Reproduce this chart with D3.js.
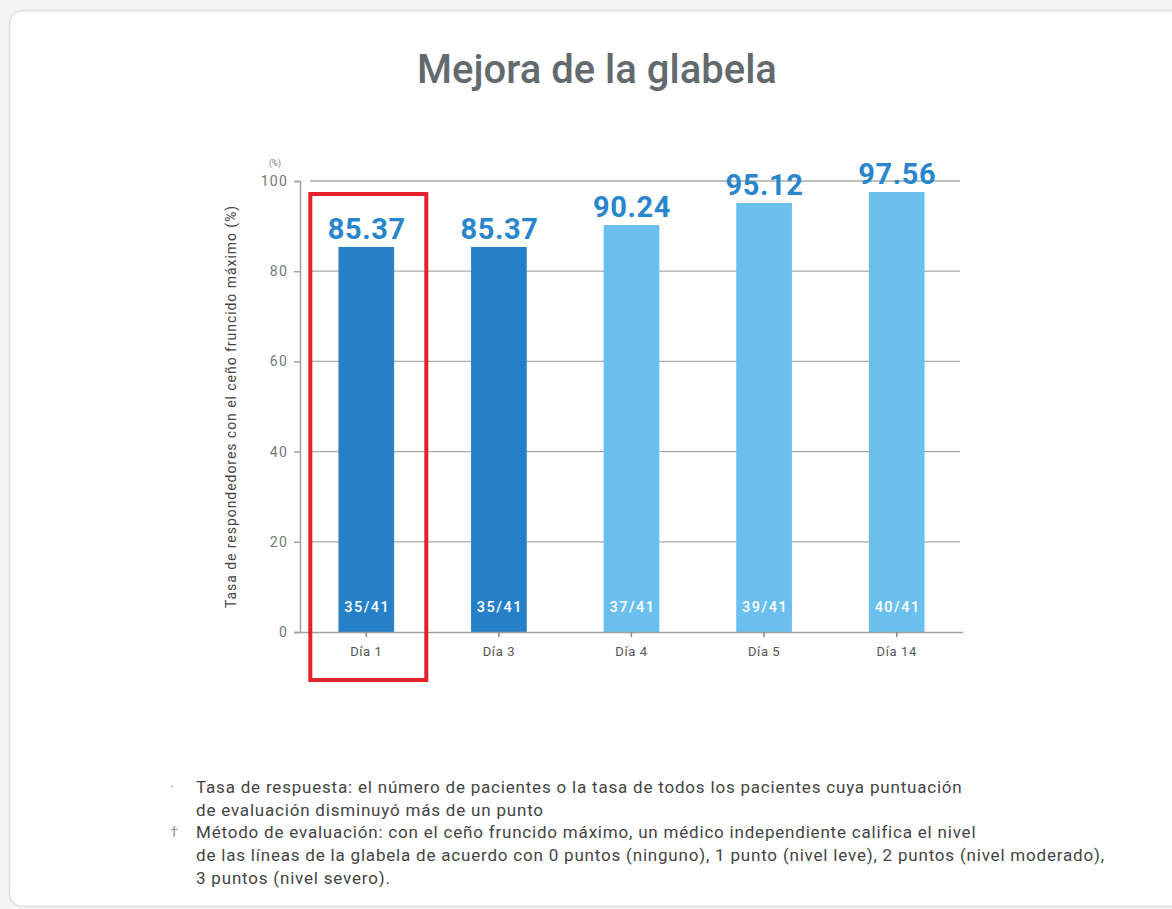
<!DOCTYPE html>
<html><head><meta charset="utf-8">
<script src="https://cdn.jsdelivr.net/npm/d3@7"></script>
<style>
html,body{margin:0;padding:0;background:#f4f4f4;}
svg{display:block;}
</style></head>
<body>
<svg id="chart" width="1172" height="909"></svg>
<script>
const title = "Mejora de la glabela";
const categories = ["Día 1", "Día 3", "Día 4", "Día 5", "Día 14"];
const values = [85.37, 85.37, 90.24, 95.12, 97.56];
const counts = ["35/41", "35/41", "37/41", "39/41", "40/41"];
const barColors = ["#2580c8", "#2580c8", "#6bbfec", "#6bbfec", "#6bbfec"];
const yTicks = [0, 20, 40, 60, 80, 100];
const yTitle = "Tasa de respondedores con el ceño fruncido máximo (%)";
const unitLabel = "(%)";
const highlighted = "Día 1";
const footnotes = [
  {mark: "·", lines: ["Tasa de respuesta: el número de pacientes o la tasa de todos los pacientes cuya puntuación",
                      "de evaluación disminuyó más de un punto"]},
  {mark: "†", lines: ["Método de evaluación: con el ceño fruncido máximo, un médico independiente califica el nivel",
                      "de las líneas de la glabela de acuerdo con 0 puntos (ninguno), 1 punto (nivel leve), 2 puntos (nivel moderado),",
                      "3 puntos (nivel severo)."]}
];

const svg = d3.select("#chart");
// card
svg.append("rect").attr("x", 9.5).attr("y", 10.5).attr("width", 1180).attr("height", 896)
  .attr("rx", 13).attr("fill", "#fff").attr("stroke", "#dcdcdc").attr("stroke-width", 1.5);

svg.append("text").attr("x", 597).attr("y", 83).attr("text-anchor", "middle")
  .attr("font-family", "Roboto").attr("font-weight", 500).attr("font-size", 40)
  .attr("fill", "#636a6d").text(title);

const pLeft = 300, pRight = 963, pTop = 181, pBottom = 632;
const x = d3.scaleBand().domain(categories).range([pLeft, pRight]).paddingInner(0.58).paddingOuter(0.29);
const y = d3.scaleLinear().domain([0, 100]).range([pBottom, pTop]);

// gridlines
svg.append("g").selectAll("line").data(yTicks.filter(d => d > 0)).join("line")
  .attr("x1", pLeft + 10).attr("x2", pRight - 3)
  .attr("y1", d => y(d)).attr("y2", d => y(d))
  .attr("stroke", "#a9a9a9").attr("stroke-width", 1.3);

// y axis
const yAxis = svg.append("g").attr("transform", `translate(${pLeft},0)`)
  .call(d3.axisLeft(y).tickValues(yTicks).tickSize(6).tickPadding(6));
yAxis.select(".domain").attr("stroke", "#a0a0a0").attr("stroke-width", 1.5);
yAxis.selectAll(".tick line").attr("stroke", "#a0a0a0").attr("stroke-width", 1.5);
yAxis.selectAll("text").attr("font-family", "Roboto").attr("font-size", 14)
  .attr("letter-spacing", 1.2).attr("fill", "#777");

svg.append("text").attr("x", 275).attr("y", 166).attr("text-anchor", "middle")
  .attr("font-family", "Roboto").attr("font-size", 8.5).attr("fill", "#777").text(unitLabel);

svg.append("text").attr("transform", `translate(236,${(pTop + pBottom) / 2}) rotate(-90)`)
  .attr("text-anchor", "middle").attr("font-family", "Roboto").attr("font-size", 14)
  .attr("letter-spacing", 0.95).attr("fill", "#444").text(yTitle);

// bars
svg.append("g").selectAll("rect").data(categories).join("rect")
  .attr("x", d => x(d)).attr("width", x.bandwidth())
  .attr("y", (d, i) => y(values[i])).attr("height", (d, i) => pBottom - y(values[i]))
  .attr("fill", (d, i) => barColors[i]);

// x axis
const xAxis = svg.append("g").attr("transform", `translate(0,${pBottom})`)
  .call(d3.axisBottom(x).tickSize(5).tickPadding(10));
xAxis.select(".domain").attr("d", `M${pLeft},0.5H${pRight}`).attr("stroke", "#a0a0a0").attr("stroke-width", 1.5);
xAxis.selectAll(".tick line").attr("stroke", "#888").attr("stroke-width", 1.5);
xAxis.selectAll("text").attr("font-family", "Roboto").attr("font-size", 13)
  .attr("letter-spacing", 0.6).attr("fill", "#555");

// value labels
svg.append("g").selectAll("text").data(categories).join("text")
  .attr("x", d => x(d) + x.bandwidth() / 2 + 0.5).attr("y", (d, i) => y(values[i]) - 8)
  .attr("text-anchor", "middle").attr("font-family", "Roboto").attr("font-weight", 700)
  .attr("font-size", 29).attr("letter-spacing", 0.6).attr("fill", "#2a86cc")
  .text((d, i) => values[i].toFixed(2));

// counts inside bars
svg.append("g").selectAll("text").data(categories).join("text")
  .attr("x", d => x(d) + x.bandwidth() / 2 + 1).attr("y", pBottom - 20)
  .attr("text-anchor", "middle").attr("font-family", "Roboto").attr("font-weight", 500)
  .attr("font-size", 14.5).attr("letter-spacing", 1.5).attr("fill", "#fff")
  .text((d, i) => counts[i]);

// highlight box
const hx = x(highlighted) + x.bandwidth() / 2;
svg.append("rect").attr("x", hx - 56).attr("y", 194).attr("width", 116).attr("height", 486)
  .attr("fill", "none").attr("stroke", "#e3202b").attr("stroke-width", 4);

// footnotes
let ly = 793;
const fg = svg.append("g").attr("font-family", "Roboto").attr("font-size", 17)
  .attr("letter-spacing", 0.8).attr("fill", "#444");
footnotes.forEach(f => {
  fg.append("text").attr("x", 170).attr("y", ly - 1).attr("font-size", 15)
    .attr("letter-spacing", 0).attr("fill", "#999").text(f.mark);
  f.lines.forEach(l => {
    fg.append("text").attr("x", 196).attr("y", ly).text(l);
    ly += 22.7;
  });
});
</script>
</body></html>
